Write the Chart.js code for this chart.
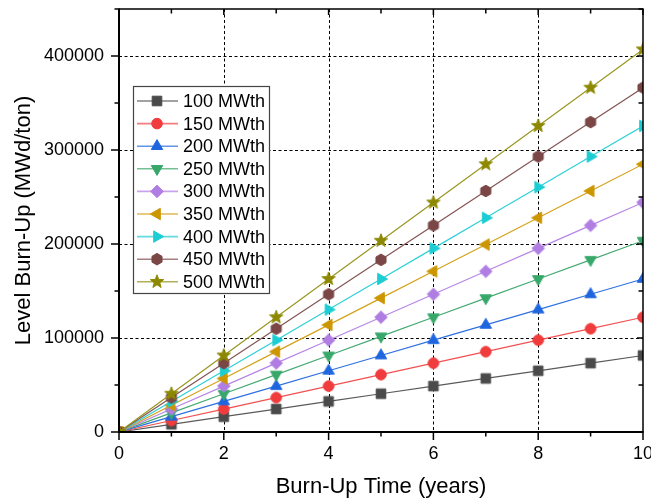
<!DOCTYPE html>
<html>
<head>
<meta charset="utf-8">
<script src="https://cdn.jsdelivr.net/npm/chart.js@4/dist/chart.umd.min.js"></script>
<style>
html,body{margin:0;padding:0;background:#fff;overflow:hidden;}
#wrap{position:relative;width:680px;height:499px;}
</style>
</head>
<body>
<div id="wrap"><canvas id="c" width="680" height="499"></canvas></div>
<script>
// ---- data ----
const years = [0,1,2,3,4,5,6,7,8,9,10];
const seriesNames = ['100 MWth','150 MWth','200 MWth','250 MWth','300 MWth','350 MWth','400 MWth','450 MWth','500 MWth'];
const s100 = [0,8140,16280,24420,32560,40700,48840,56980,65120,73260,81400];
const s150 = [0,12210,24420,36630,48840,61050,73260,85470,97680,109890,122100];
const s200 = [0,16280,32560,48840,65120,81400,97680,113960,130240,146520,162800];
const s250 = [0,20350,40700,61050,81400,101750,122100,142450,162800,183150,203500];
const s300 = [0,24420,48840,73260,97680,122100,146520,170940,195360,219780,244200];
const s350 = [0,28490,56980,85470,113960,142450,170940,199430,227920,256410,284900];
const s400 = [0,32560,65120,97680,130240,162800,195360,227920,260480,293040,325600];
const s450 = [0,36630,73260,109890,146520,183150,219780,256410,293040,329670,366300];
const s500 = [0,40700,81400,122100,162800,203500,244200,284900,325600,366300,407000];
const seriesValues = [s100,s150,s200,s250,s300,s350,s400,s450,s500];
const xTickLabels = [0,2,4,6,8,10];
const yTickLabels = [0,100000,200000,300000,400000];

// ---- styles ----
const markerColors = ['#4a4a4a','#f03c3c','#1f66de','#38a86a','#b07ee2','#cc9600','#1ccdd3','#7a4646','#8c8800'];
const lineColors   = ['#5a5a5a','#f25050','#2e70e0','#45aa72','#b786e6','#d4a21a','#2dd0d6','#855454','#9a9620'];
const shapes = ['square','circle','triUp','triDown','diamond','triLeft','triRight','hexagon','star'];

function drawShape(ctx, shape, x, y, color){
  ctx.save();
  ctx.fillStyle = color;
  ctx.strokeStyle = color;
  ctx.lineWidth = 1;
  ctx.beginPath();
  const tri = (rot) => {
    const r = 6.6;
    for (let k=0;k<3;k++){
      const a = rot + k*2*Math.PI/3;
      const px = x + r*Math.cos(a), py = y + r*Math.sin(a);
      if(k===0) ctx.moveTo(px,py); else ctx.lineTo(px,py);
    }
    ctx.closePath();
  };
  switch(shape){
    case 'square': ctx.rect(x-4.8,y-4.8,9.6,9.6); break;
    case 'circle': ctx.arc(x,y,5.3,0,Math.PI*2); break;
    case 'triUp': tri(-Math.PI/2); break;
    case 'triDown': tri(Math.PI/2); break;
    case 'triLeft': tri(Math.PI); break;
    case 'triRight': tri(0); break;
    case 'diamond':
      ctx.moveTo(x,y-6.3); ctx.lineTo(x+6.3,y); ctx.lineTo(x,y+6.3); ctx.lineTo(x-6.3,y); ctx.closePath(); break;
    case 'hexagon':
      for(let k=0;k<6;k++){const a=Math.PI/6+k*Math.PI/3; const px=x+5.8*Math.cos(a), py=y+5.8*Math.sin(a); if(k===0)ctx.moveTo(px,py); else ctx.lineTo(px,py);} ctx.closePath(); break;
    case 'star':
      for(let k=0;k<10;k++){const a=-Math.PI/2+k*Math.PI/5; const r=(k%2===0)?7:2.9; const px=x+r*Math.cos(a), py=y+r*Math.sin(a); if(k===0)ctx.moveTo(px,py); else ctx.lineTo(px,py);} ctx.closePath(); break;
  }
  ctx.fill();
  ctx.stroke();
  ctx.restore();
}
function markerCanvas(shape,color){
  const cv = document.createElement('canvas');
  cv.width = 18; cv.height = 18;
  drawShape(cv.getContext('2d'), shape, 9, 9, color);
  return cv;
}

const datasets = seriesValues.map((vals,i)=>({
  label: seriesNames[i],
  data: years.map((x,j)=>({x:x,y:vals[j]})),
  borderColor: lineColors[i],
  backgroundColor: markerColors[i],
  borderWidth: 1.2,
  pointStyle: markerCanvas(shapes[i], markerColors[i]),
  pointRadius: 6,
  pointHoverRadius: 6,
  tension: 0,
  order: seriesNames.length - i
}));

const CA = {left:119, right:643, top:9, bottom:432};

const framePlugin = {
  id:'frame',
  beforeDatasetsDraw(chart){
    const ctx = chart.ctx, xs = chart.scales.x, ys = chart.scales.y;
    ctx.save();
    ctx.strokeStyle = '#000';
    ctx.lineWidth = 1;
    ctx.setLineDash([3,2.5]);
    [2,4,6,8].forEach(v=>{
      const px = Math.round(xs.getPixelForValue(v))+0.5;
      ctx.beginPath(); ctx.moveTo(px, ys.top); ctx.lineTo(px, ys.bottom); ctx.stroke();
    });
    [100000,200000,300000,400000].forEach(v=>{
      const py = Math.round(ys.getPixelForValue(v))+0.5;
      ctx.beginPath(); ctx.moveTo(xs.left, py); ctx.lineTo(xs.right, py); ctx.stroke();
    });
    ctx.restore();
  },
  afterDatasetsDraw(chart){
    const ctx = chart.ctx, xs = chart.scales.x, ys = chart.scales.y;
    const L = xs.left, R = xs.right, T = ys.top, B = ys.bottom;
    ctx.save();
    ctx.strokeStyle = '#000';
    ctx.setLineDash([]);
    ctx.lineWidth = 1.5;
    ctx.beginPath(); ctx.moveTo(L,T); ctx.lineTo(R,T); ctx.lineTo(R,B); ctx.stroke();
    ctx.lineWidth = 2;
    ctx.beginPath(); ctx.moveTo(L,T-0.5); ctx.lineTo(L,B); ctx.lineTo(R+0.5,B); ctx.stroke();
    ctx.lineWidth = 1.5;
    for(let v=0; v<=10; v++){
      const px = xs.getPixelForValue(v);
      const major = v%2===0;
      ctx.beginPath(); ctx.moveTo(px,B); ctx.lineTo(px,B+(major?8:4.5)); ctx.stroke();
      ctx.beginPath(); ctx.moveTo(px,T); ctx.lineTo(px,T+(major?6:4.5)); ctx.stroke();
    }
    for(let v=0; v<=450000; v+=50000){
      const py = ys.getPixelForValue(v);
      const major = v%100000===0;
      ctx.beginPath(); ctx.moveTo(L,py); ctx.lineTo(L-(major?8:4.5),py); ctx.stroke();
      ctx.beginPath(); ctx.moveTo(R,py); ctx.lineTo(R-(major?6:4.5),py); ctx.stroke();
    }
    ctx.restore();
  },
  afterDraw(chart){
    const ctx = chart.ctx;
    const bx = 133, by = 86, bw = 136, bh = 207;
    ctx.save();
    ctx.fillStyle = '#fff';
    ctx.fillRect(bx,by,bw,bh);
    ctx.strokeStyle = '#444';
    ctx.lineWidth = 1.2;
    ctx.strokeRect(bx+0.5,by+0.5,bw,bh);
    ctx.font = '18px "Liberation Sans", Arial, sans-serif';
    ctx.textBaseline = 'middle';
    ctx.textAlign = 'left';
    seriesNames.forEach((name,i)=>{
      const cy = 101 + i*22.6;
      ctx.globalAlpha = 0.75;
      ctx.strokeStyle = lineColors[i];
      ctx.lineWidth = 1.6;
      ctx.beginPath(); ctx.moveTo(137,cy); ctx.lineTo(178,cy); ctx.stroke();
      ctx.globalAlpha = 1;
      drawShape(ctx, shapes[i], 157, cy, markerColors[i]);
      ctx.fillStyle = '#000';
      ctx.fillText(name, 183, cy+1);
    });
    ctx.restore();
  }
};

new Chart(document.getElementById('c'), {
  type: 'line',
  data: { datasets },
  plugins: [framePlugin],
  options: {
    responsive: false,
    animation: false,
    events: [],
    layout: { padding: { left: 0, right: 680 - CA.right, top: CA.top, bottom: 0 } },
    plugins: { legend: { display: false }, tooltip: { enabled: false } },
    scales: {
      x: {
        type: 'linear', min: 0, max: 10,
        grid: { display: false, drawTicks: false },
        border: { display: false },
        afterBuildTicks(s){ s.ticks = xTickLabels.map(v=>({value:v})); },
        afterFit(s){ s.height = 499 - CA.bottom; s.paddingLeft = 0; s.paddingRight = 0; },
        ticks: { color:'#000', padding: 11, maxRotation: 0, autoSkip: false,
                 font: { size: 18, family: '"Liberation Sans", Arial, sans-serif' } },
        title: { display: true, text: 'Burn-Up Time (years)', color:'#000',
                 font: { size: 22, family: '"Liberation Sans", Arial, sans-serif', lineHeight: 1 },
                 padding: { top: 0, bottom: 1 } }
      },
      y: {
        type: 'linear', min: 0, max: 450000,
        grid: { display: false, drawTicks: false },
        border: { display: false },
        afterBuildTicks(s){ s.ticks = yTickLabels.map(v=>({value:v})); },
        afterFit(s){ s.width = CA.left; s.paddingTop = 0; s.paddingBottom = 0; },
        ticks: { color:'#000', padding: 15, autoSkip: false,
                 callback: v => String(v),
                 font: { size: 18, family: '"Liberation Sans", Arial, sans-serif' } },
        title: { display: true, text: 'Level Burn-Up (MWd/ton)', color:'#000',
                 font: { size: 22, family: '"Liberation Sans", Arial, sans-serif', lineHeight: 1 },
                 padding: { top: 13, bottom: 0 } }
      }
    }
  }
});
</script>
</body>
</html>
